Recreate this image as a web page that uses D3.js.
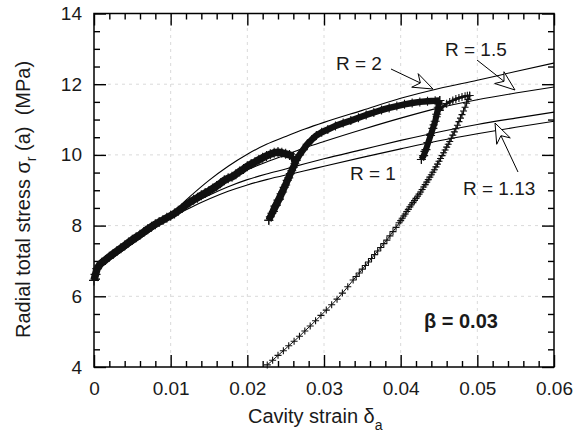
<!DOCTYPE html>
<html>
<head>
<meta charset="utf-8">
<script src="https://cdn.jsdelivr.net/npm/d3@7"></script>
<style>
  html, body { margin: 0; padding: 0; background: #fff; }
  svg { display: block; font-family: "Liberation Sans", Arial, Helvetica, sans-serif; }
</style>
</head>
<body>
<svg id="chart" width="579" height="440"></svg>
<script>
// Axis ticks
const xMajorTicks = [0, 0.01, 0.02, 0.03, 0.04, 0.05, 0.06];
const xTickLabels = ["0", "0.01", "0.02", "0.03", "0.04", "0.05", "0.06"];
const yMajorTicks = [4, 6, 8, 10, 12, 14];
const yTickLabels = ["4", "6", "8", "10", "12", "14"];

// Model curves: cavity strain grid and radial stress (MPa) for each R
const curveStrain = [0, 0.0025, 0.005, 0.0075, 0.01, 0.0125, 0.015, 0.0175, 0.02, 0.0225, 0.025, 0.0275, 0.03, 0.035, 0.04, 0.045, 0.05, 0.055, 0.06];
const stressR2   = [6.7, 7.1, 7.5, 7.9, 8.32, 8.82, 9.28, 9.68, 10.02, 10.3, 10.52, 10.73, 10.92, 11.26, 11.6, 11.88, 12.11, 12.36, 12.6];
const stressR15  = [6.7, 7.12, 7.52, 7.9, 8.3, 8.68, 9.02, 9.32, 9.58, 9.8, 10.0, 10.2, 10.38, 10.72, 11.04, 11.33, 11.56, 11.75, 11.92];
const stressR113 = [6.7, 7.12, 7.5, 7.88, 8.26, 8.58, 8.86, 9.1, 9.3, 9.46, 9.6, 9.75, 9.89, 10.15, 10.41, 10.65, 10.86, 11.04, 11.21];
const stressR1   = [6.7, 7.1, 7.48, 7.86, 8.22, 8.5, 8.75, 8.97, 9.15, 9.3, 9.43, 9.55, 9.68, 9.93, 10.17, 10.4, 10.6, 10.78, 10.95];

// Measured test record [strain, stress], split into loading / unloading legs
const loading1 = [[0,6.45],[0.0002,6.62],[0.0004,6.78],[0.0007,6.88],[0.001,6.95],[0.0015,7.03],[0.002,7.12],[0.0025,7.2],[0.003,7.28],[0.0035,7.36],[0.004,7.44],[0.0045,7.52],[0.005,7.6],[0.0055,7.67],[0.006,7.74],[0.0065,7.82],[0.007,7.9],[0.0075,7.97],[0.008,8.04],[0.0085,8.1],[0.009,8.16],[0.0095,8.22],[0.010,8.28],[0.0105,8.34],[0.011,8.42],[0.0115,8.5],[0.012,8.58],[0.0125,8.66],[0.013,8.73],[0.0135,8.79],[0.014,8.86],[0.0145,8.92],[0.015,8.98],[0.0155,9.05],[0.016,9.12],[0.0165,9.2],[0.017,9.28],[0.0175,9.34],[0.018,9.38],[0.0185,9.45],[0.019,9.53],[0.0195,9.6],[0.020,9.68],[0.0205,9.74],[0.021,9.8],[0.0215,9.86],[0.022,9.92],[0.0225,9.97],[0.023,10.02],[0.0235,10.06],[0.024,10.08],[0.0245,10.06],[0.025,10.03],[0.0255,10.0],[0.026,9.95]];
const unload1 = [[0.026,9.95],[0.0262,9.75],[0.0258,9.55],[0.0254,9.35],[0.025,9.15],[0.0246,8.95],[0.0242,8.75],[0.0238,8.58],[0.0234,8.4],[0.023,8.25],[0.0228,8.15]];
const reload1 = [[0.0228,8.15],[0.0232,8.35],[0.0236,8.55],[0.024,8.72],[0.0244,8.9],[0.0248,9.08],[0.0252,9.28],[0.0256,9.47],[0.026,9.65],[0.0264,9.85],[0.0268,10.0],[0.0273,10.15],[0.0278,10.3],[0.0284,10.43],[0.029,10.55],[0.0297,10.64],[0.0305,10.72],[0.0315,10.82],[0.0325,10.9],[0.0335,10.97],[0.0345,11.05],[0.0355,11.13],[0.0365,11.2],[0.0375,11.27],[0.0385,11.33],[0.0395,11.38],[0.0405,11.43],[0.0415,11.47],[0.0425,11.5],[0.0435,11.52],[0.0445,11.53],[0.0451,11.54]];
const unload2 = [[0.0451,11.54],[0.0449,11.35],[0.0447,11.15],[0.0445,10.95],[0.0442,10.75],[0.0439,10.55],[0.0436,10.35],[0.0433,10.15],[0.043,9.98],[0.0427,9.87]];
const reload2 = [[0.0427,9.87],[0.0431,10.1],[0.0435,10.35],[0.0439,10.6],[0.0443,10.85],[0.0447,11.08],[0.0451,11.26],[0.0455,11.36],[0.046,11.45],[0.0464,11.5],[0.0468,11.54],[0.0472,11.58],[0.0476,11.61],[0.048,11.64],[0.0484,11.66],[0.0487,11.67],[0.049,11.68]];
const unload3 = [[0.0490,11.68],[0.0488,11.57],[0.0486,11.46],[0.0484,11.35],[0.0482,11.24],[0.0480,11.14],[0.0478,11.04],[0.0476,10.94],[0.0474,10.84],[0.0472,10.74],[0.0470,10.65],[0.0468,10.56],[0.0466,10.47],[0.0464,10.38],[0.0462,10.30],[0.0460,10.22],[0.0458,10.14],[0.0456,10.06],[0.0454,9.98],[0.0452,9.90],[0.0450,9.82],[0.0448,9.74],[0.0446,9.66],[0.0444,9.58],[0.0442,9.51],[0.0440,9.44],[0.0438,9.37],[0.0436,9.30],[0.0434,9.23],[0.0432,9.16],[0.0430,9.09],[0.0428,9.02],[0.0426,8.95],[0.0424,8.89],[0.0422,8.83],[0.0420,8.77],[0.0418,8.71],[0.0416,8.65],[0.0414,8.59],[0.0412,8.53],[0.0410,8.46],[0.0408,8.40],[0.0406,8.33],[0.0404,8.27],[0.0402,8.21],[0.0400,8.14],[0.0398,8.08],[0.0394,7.95],[0.0390,7.83],[0.0386,7.71],[0.0382,7.59],[0.0378,7.49],[0.0374,7.38],[0.0370,7.28],[0.0366,7.18],[0.0362,7.07],[0.0358,6.97],[0.0354,6.87],[0.0350,6.77],[0.0346,6.66],[0.0342,6.56],[0.0338,6.46],[0.0331,6.27],[0.0324,6.09],[0.0317,5.92],[0.0310,5.76],[0.0303,5.61],[0.0296,5.46],[0.0289,5.31],[0.0282,5.16],[0.0275,5.02],[0.0268,4.87],[0.0261,4.73],[0.0254,4.60],[0.0247,4.46],[0.0240,4.33],[0.0233,4.19],[0.0226,4.06]];

const svg = d3.select("#chart");
const x = d3.scaleLinear().domain([0, 0.06]).range([94, 554]);
const y = d3.scaleLinear().domain([4, 14]).range([367, 13.5]);
const X0 = x(0), X1 = x(0.06), Y0 = y(4), Y1 = y(14);

const xMinor = d3.range(0, 0.0601, 0.002).filter(v => Math.abs(v / 0.01 - Math.round(v / 0.01)) > 1e-6);
const yMinor = d3.range(4, 14.01, 0.5).filter(v => Math.abs(v / 2 - Math.round(v / 2)) > 1e-6);

// dashed grid
const grid = svg.append("g").attr("stroke", "#dadada").attr("stroke-width", 1).attr("stroke-dasharray", "3,4");
xMajorTicks.slice(1, -1).forEach(v => grid.append("line").attr("x1", x(v)).attr("x2", x(v)).attr("y1", Y0).attr("y2", Y1));
yMajorTicks.slice(1, -1).forEach(v => grid.append("line").attr("x1", X0).attr("x2", X1).attr("y1", y(v)).attr("y2", y(v)));

// inward ticks on all four sides
function styleAxis(g) {
  g.select(".domain").remove();
  g.selectAll(".tick line").attr("stroke", "#000").attr("stroke-width", 1.4);
  g.selectAll("text").attr("font-size", 19).attr("fill", "#1a1a1a").attr("font-family", "Liberation Sans, Arial, sans-serif");
}
const xLabelMap = new Map(xMajorTicks.map((v, i) => [v, xTickLabels[i]]));
const yLabelMap = new Map(yMajorTicks.map((v, i) => [v, yTickLabels[i]]));

svg.append("g").attr("transform", `translate(0,${Y0})`)
  .call(d3.axisBottom(x).tickValues(xMajorTicks).tickSize(-12).tickPadding(15).tickFormat(v => xLabelMap.get(v)))
  .call(styleAxis);
svg.append("g").attr("transform", `translate(0,${Y0})`)
  .call(d3.axisBottom(x).tickValues(xMinor).tickSize(-6).tickFormat(""))
  .call(styleAxis);
svg.append("g").attr("transform", `translate(0,${Y1})`)
  .call(d3.axisTop(x).tickValues(xMajorTicks).tickSize(-12).tickFormat(""))
  .call(styleAxis);
svg.append("g").attr("transform", `translate(0,${Y1})`)
  .call(d3.axisTop(x).tickValues(xMinor).tickSize(-6).tickFormat(""))
  .call(styleAxis);
svg.append("g").attr("transform", `translate(${X0},0)`)
  .call(d3.axisLeft(y).tickValues(yMajorTicks).tickSize(-12).tickPadding(12).tickFormat(v => yLabelMap.get(v)))
  .call(styleAxis);
svg.append("g").attr("transform", `translate(${X0},0)`)
  .call(d3.axisLeft(y).tickValues(yMinor).tickSize(-6).tickFormat(""))
  .call(styleAxis);
svg.append("g").attr("transform", `translate(${X1},0)`)
  .call(d3.axisRight(y).tickValues(yMajorTicks).tickSize(-12).tickFormat(""))
  .call(styleAxis);
svg.append("g").attr("transform", `translate(${X1},0)`)
  .call(d3.axisRight(y).tickValues(yMinor).tickSize(-6).tickFormat(""))
  .call(styleAxis);

svg.append("rect").attr("x", X0).attr("y", Y1).attr("width", X1 - X0).attr("height", Y0 - Y1)
  .attr("fill", "none").attr("stroke", "#000").attr("stroke-width", 1.5);

// model curves
const curveLine = d3.line().x(d => x(d[0])).y(d => y(d[1])).curve(d3.curveMonotoneX);
[stressR2, stressR15, stressR113, stressR1].forEach(vals => {
  svg.append("path").datum(curveStrain.map((s, i) => [s, vals[i]]))
    .attr("d", curveLine).attr("fill", "none").attr("stroke", "#000").attr("stroke-width", 1.1);
});

// measured record: legs drawn as a trace with + markers at every reading
const trace = d3.line().x(d => x(d[0])).y(d => y(d[1]));
const legs = [
  { pts: loading1, w: 7.5, m: 5 },
  { pts: unload1, w: 6.5, m: 4.5 },
  { pts: reload1, w: 6.5, m: 4.5 },
  { pts: unload2, w: 6, m: 4.5 },
  { pts: reload2, w: 2.5, m: 4 },
  { pts: unload3, w: 1, m: 3.5 }
];
const dataG = svg.append("g");
legs.forEach(leg => {
  dataG.append("path").datum(leg.pts).attr("d", trace)
    .attr("fill", "none").attr("stroke", "#111").attr("stroke-width", leg.w).attr("stroke-linejoin", "round");
  dataG.selectAll(null).data(leg.pts).enter().append("path")
    .attr("transform", d => `translate(${x(d[0])},${y(d[1])})`)
    .attr("d", `M${-leg.m},0H${leg.m}M0,${-leg.m}V${leg.m}`)
    .attr("stroke", "#111").attr("stroke-width", 1.1).attr("fill", "none");
});

// open-headed arrows from each label to its curve
function arrow(x0, y0, tx, ty) {
  const dx = tx - x0, dy = ty - y0, len = Math.hypot(dx, dy);
  const ux = dx / len, uy = dy / len, nx = -uy, ny = ux;
  const L = 20, W = 7.5, N = 14;
  const bx = tx - ux * L, by = ty - uy * L;
  const notch = [tx - ux * N, ty - uy * N];
  svg.append("line").attr("x1", x0).attr("y1", y0).attr("x2", notch[0]).attr("y2", notch[1])
    .attr("stroke", "#000").attr("stroke-width", 1);
  svg.append("path")
    .attr("d", `M${tx},${ty}L${bx + nx * W},${by + ny * W}L${notch[0]},${notch[1]}L${bx - nx * W},${by - ny * W}Z`)
    .attr("fill", "#fff").attr("stroke", "#000").attr("stroke-width", 1).attr("stroke-linejoin", "miter");
}
arrow(391, 69, 433, 89);
arrow(477, 60, 515, 90);
arrow(518, 172, 495, 123);

const annot = svg.append("g").attr("font-size", 19).attr("fill", "#1a1a1a");
annot.append("text").attr("x", 336).attr("y", 70).text("R = 2");
annot.append("text").attr("x", 445).attr("y", 56).text("R = 1.5");
annot.append("text").attr("x", 350).attr("y", 180).text("R = 1");
annot.append("text").attr("x", 463).attr("y", 195).text("R = 1.13");
annot.append("text").attr("x", 424).attr("y", 328).attr("font-weight", "bold").attr("font-size", 20).text("β = 0.03");

// axis titles
const xt = svg.append("text").attr("x", 248).attr("y", 423).attr("font-size", 20).attr("fill", "#1a1a1a");
xt.append("tspan").text("Cavity strain δ");
xt.append("tspan").attr("font-size", 14).attr("dy", 7).text("a");

const yt = svg.append("text").attr("transform", "translate(30,338) rotate(-90)").attr("font-size", 20).attr("fill", "#1a1a1a");
yt.append("tspan").text("Radial total stress σ");
yt.append("tspan").attr("font-size", 14).attr("dy", 6).text("r");
yt.append("tspan").attr("dy", -6).attr("xml:space", "preserve").text(" (a)  (MPa)");
</script>
</body>
</html>
